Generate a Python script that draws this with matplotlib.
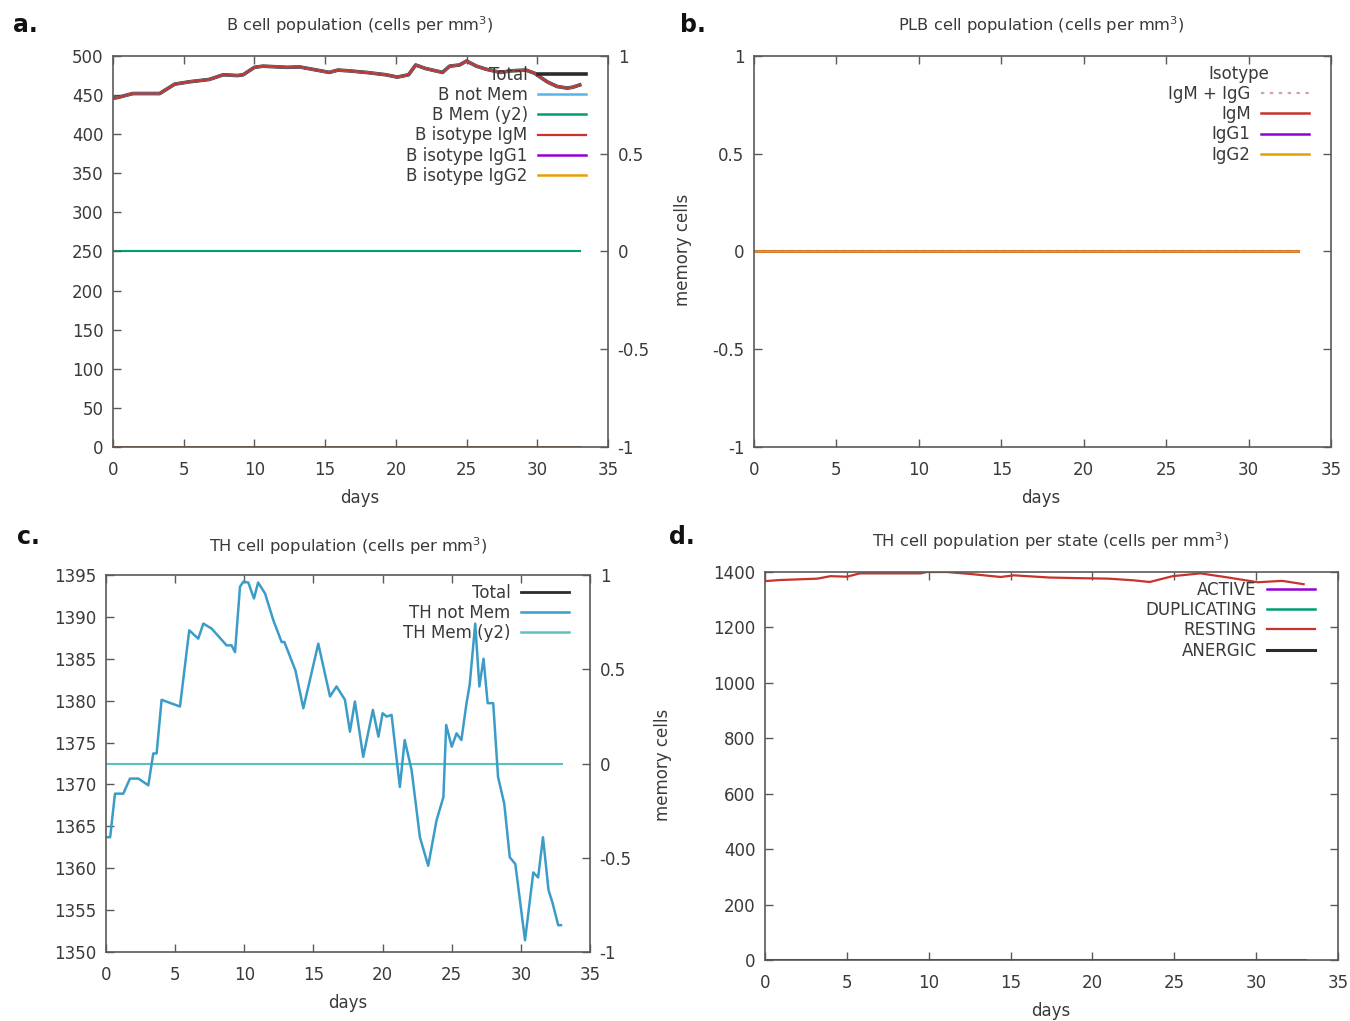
import matplotlib
matplotlib.use("Agg")
import matplotlib.pyplot as plt

# ---------------- data ----------------
# Panel a: B cell population
b_days = [0, 0.35, 1.4, 3.3, 4.36, 5.4, 6.8, 7.8, 8.8, 9.2, 10.0, 10.6, 12.3, 13.2,
          14.1, 15.3, 15.9, 16.7, 17.9, 19.3, 20.1, 20.9, 21.4, 22.1, 23.3, 23.8,
          24.5, 25.0, 25.7, 26.4, 27.4, 28.1, 29.2, 29.8, 30.7, 31.4, 32.1, 32.5, 33.0]
b_total = [446, 447, 452, 452, 464, 467, 470, 476, 475, 476, 485.5, 487, 485.5, 486,
           483, 479, 482, 481, 479, 476, 473, 476, 488.5, 484, 479, 487,
           488.5, 493.6, 487, 483, 479, 481, 482, 478, 467, 461, 459, 460, 463]
flat_days = [0, 33]
flat_zero = [0, 0]

# Panel c: TH cell population
th_days = [0.05, 0.3, 0.65, 1.25, 1.73, 2.34, 3.06, 3.42, 3.66, 4.02, 5.35, 6.02, 6.67,
           7.04, 7.64, 8.72, 9.08, 9.33, 9.69, 9.93, 10.29, 10.7, 11.0, 11.5, 12.1,
           12.7, 12.9, 13.7, 14.27, 14.75, 15.35, 16.2, 16.67, 17.28, 17.64, 18.0,
           18.6, 19.3, 19.7, 20.0, 20.3, 20.65, 21.25, 21.6, 22.1, 22.7, 23.3, 23.9,
           24.4, 24.6, 25.0, 25.35, 25.7, 26.07, 26.3, 26.7, 27.0, 27.3, 27.6, 28.0,
           28.35, 28.8, 29.2, 29.6, 30.3, 30.9, 31.25, 31.6, 32.0, 32.3, 32.7, 32.9]
th_not_mem = [1363.7, 1363.7, 1368.9, 1368.9, 1370.7, 1370.7, 1369.9, 1373.7, 1373.7,
              1380.1, 1379.3, 1388.4, 1387.4, 1389.2, 1388.6, 1386.6, 1386.6, 1385.8,
              1393.6, 1394.2, 1394.1, 1392.2, 1394.1, 1392.8, 1389.6, 1387.0, 1387.0,
              1383.6, 1379.1, 1382.5, 1386.8, 1380.5, 1381.7, 1380.1, 1376.3, 1379.9,
              1373.3, 1378.9, 1375.7, 1378.5, 1378.1, 1378.3, 1369.7, 1375.3, 1371.7,
              1363.7, 1360.3, 1365.7, 1368.5, 1377.1, 1374.5, 1376.1, 1375.3, 1379.7,
              1381.9, 1389.2, 1381.7, 1385.0, 1379.7, 1379.7, 1370.9, 1367.7, 1361.3,
              1360.5, 1351.4, 1359.5, 1358.9, 1363.7, 1357.4, 1355.8, 1353.2, 1353.2]

# Panel d: TH cells per state
st_days = [0, 0.9, 2.3, 3.2, 4.0, 5.0, 5.8, 9.5, 9.9, 11.1, 12.7, 14.4, 15.2, 16.0,
           17.4, 19.0, 21.0, 22.5, 23.5, 24.9, 26.6, 28.2, 30.1, 31.6, 32.9]
st_resting = [1367, 1371, 1374, 1376, 1385, 1383, 1395, 1395, 1400, 1400, 1392, 1382,
              1388, 1385, 1380, 1378, 1376, 1370, 1364, 1385, 1395, 1381, 1363, 1368, 1356]

# ---------------- style ----------------
W, H = 1350, 1021
TXT = "#3a3a3a"
SPINE = "#5a5a5a"
plt.rcParams["font.family"] = ["DejaVu Sans"]
plt.rcParams["text.color"] = TXT

C_BLACK = "#2b2b2b"
C_LBLUE = "#56b4e9"
C_TEAL = "#009e73"
C_RED = "#c8332b"
C_PURPLE = "#9400d3"
C_ORANGE = "#e69f00"
C_THBLUE = "#3c9cc8"
C_THMEM = "#5cc0c0"

fig = plt.figure(figsize=(W / 100, H / 100), dpi=100)


def axes_px(l, t, r, b):
    ax = fig.add_axes([l / W, 1 - b / H, (r - l) / W, (b - t) / H])
    ax._px = (l, t, r, b)
    return ax


def ftext(x, y, s, **kw):
    fig.text(x / W, 1 - y / H, s, ha="center", va="center", **kw)


def style(ax, right=True):
    for sp in ax.spines.values():
        sp.set_color(SPINE)
        sp.set_linewidth(1.2)
    ax.tick_params(direction="in", top=True, right=right, length=6, width=1,
                   color=SPINE, labelcolor=TXT, labelsize=12, pad=7)
    ax.tick_params(axis="x", pad=10)


def style_y2(ax2):
    ax2.set_ylim(-1, 1)
    ax2.set_yticks([-1, -0.5, 0, 0.5, 1])
    ax2.set_yticklabels(["-1", "-0.5", "0", "0.5", "1"])
    ax2.tick_params(direction="in", length=6, width=1, color=SPINE,
                    labelcolor=TXT, labelsize=12, pad=7)
    for sp in ax2.spines.values():
        sp.set_visible(False)


def legend(ax, x_px, y_px, title=None, **kw):
    l, t, r, b = ax._px
    anchor = ((x_px - l) / (r - l), (b - y_px) / (b - t))
    lg = ax.legend(loc="upper right", bbox_to_anchor=anchor, frameon=False,
                   markerfirst=False, fontsize=12, handlelength=2.9,
                   handletextpad=0.6, labelspacing=0.13, borderaxespad=0,
                   borderpad=0, title=title, title_fontsize=12, **kw)
    for t_ in lg.get_texts():
        t_.set_color(TXT)
    if title:
        lg.get_title().set_color(TXT)
    return lg


xticks = [0, 5, 10, 15, 20, 25, 30, 35]

# ---------------- panel a ----------------
axa = axes_px(113, 56, 608, 447)
style(axa, right=False)
axa.set_xlim(0, 35)
axa.set_ylim(0, 500)
axa.set_xticks(xticks)
axa.set_yticks(range(0, 501, 50))
axa2 = axa.twinx()
style_y2(axa2)
axa2.plot(flat_days, flat_zero, color=C_TEAL, lw=1.5)
la = []
la += axa.plot(b_days, b_total, color=C_BLACK, lw=2.6, label="Total")
la += axa.plot(b_days, b_total, color=C_LBLUE, lw=1.8, label="B not Mem")
la += axa2.plot([], [], color=C_TEAL, lw=1.8, label="B Mem (y2)")
la += axa.plot(b_days, b_total, color=C_RED, lw=1.6, label="B isotype IgM")
la += axa.plot(flat_days, flat_zero, color=C_PURPLE, lw=1.8, label="B isotype IgG1")
la += axa.plot(flat_days, flat_zero, color=C_ORANGE, lw=1.8, label="B isotype IgG2")
axa.plot(flat_days, flat_zero, color="#8a4a2a", lw=1.8)
axa.set_zorder(axa2.get_zorder() + 1)
axa.patch.set_visible(False)
legend(axa, 586, 66, handles=la)
ftext(360, 25, "B cell population (cells per mm$^3$)", fontsize=11.7)
ftext(360, 498, "days", fontsize=12)
ftext(683, 250, "memory cells", fontsize=12, rotation=90)
ftext(25, 25, "a.", fontsize=17, fontweight="bold", color="#111111")

# ---------------- panel b ----------------
axb = axes_px(754, 56, 1331, 447)
style(axb)
axb.set_xlim(0, 35)
axb.set_ylim(-1, 1)
axb.set_xticks(xticks)
axb.set_yticks([-1, -0.5, 0, 0.5, 1])
axb.set_yticklabels(["-1", "-0.5", "0", "0.5", "1"])
axb.plot(flat_days, flat_zero, color="#d8a0a0", lw=1.6, ls=(0, (1.5, 2.5)), label="IgM + IgG")
axb.plot(flat_days, flat_zero, color=C_RED, lw=1.8, label="IgM")
axb.plot(flat_days, flat_zero, color=C_PURPLE, lw=1.8, label="IgG1")
axb.plot(flat_days, flat_zero, color=C_ORANGE, lw=1.8, label="IgG2")
legend(axb, 1309, 65, title="Isotype")
ftext(1041, 25, "PLB cell population (cells per mm$^3$)", fontsize=11.7)
ftext(1041, 498, "days", fontsize=12)
ftext(693, 25, "b.", fontsize=17, fontweight="bold", color="#111111")

# ---------------- panel c ----------------
axc = axes_px(106, 575, 590, 952)
style(axc, right=False)
axc.set_xlim(0, 35)
axc.set_ylim(1350, 1395)
axc.set_xticks(xticks)
axc.set_yticks(range(1350, 1396, 5))
axc2 = axc.twinx()
style_y2(axc2)
axc2.plot(flat_days, flat_zero, color=C_THMEM, lw=1.5)
lc = []
lc += axc.plot([], [], color=C_BLACK, lw=2, label="Total")
lc += axc.plot(th_days, th_not_mem, color=C_THBLUE, lw=1.8, label="TH not Mem")
lc += axc2.plot([], [], color=C_THMEM, lw=1.8, label="TH Mem (y2)")
axc.set_zorder(axc2.get_zorder() + 1)
axc.patch.set_visible(False)
legend(axc, 569, 584, handles=lc)
ftext(348, 546, "TH cell population (cells per mm$^3$)", fontsize=11.7)
ftext(348, 1003, "days", fontsize=12)
ftext(663, 765, "memory cells", fontsize=12, rotation=90)
ftext(28, 537, "c.", fontsize=17, fontweight="bold", color="#111111")

# ---------------- panel d ----------------
axd = axes_px(765, 572, 1338, 960)
style(axd)
axd.set_xlim(0, 35)
axd.set_ylim(0, 1400)
axd.set_xticks(xticks)
axd.set_yticks(range(0, 1401, 200))
axd.plot(flat_days, flat_zero, color=C_PURPLE, lw=1.8, label="ACTIVE")
axd.plot(flat_days, flat_zero, color=C_TEAL, lw=1.8, label="DUPLICATING")
axd.plot(st_days, st_resting, color=C_RED, lw=1.6, label="RESTING")
axd.plot(flat_days, flat_zero, color=C_BLACK, lw=2.2, label="ANERGIC")
legend(axd, 1315, 581)
ftext(1051, 541, "TH cell population per state (cells per mm$^3$)", fontsize=11.7)
ftext(1051, 1011, "days", fontsize=12)
ftext(682, 537, "d.", fontsize=17, fontweight="bold", color="#111111")

fig.savefig("out.png", dpi=100, facecolor="white")
